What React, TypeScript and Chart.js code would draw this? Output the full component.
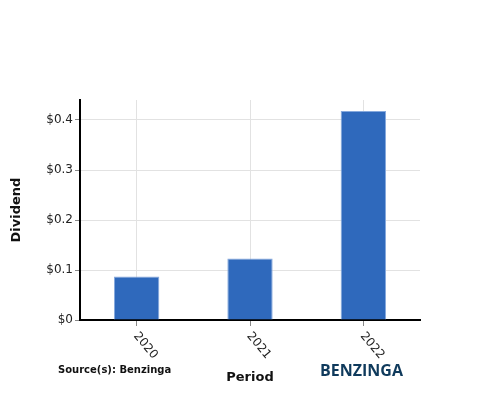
import React, { useEffect, useRef } from "react";
import { Chart, registerables } from "chart.js";

Chart.register(...registerables);

const categories = ["2020", "2021", "2022"];
const dividends = [0.087, 0.123, 0.418];
const yTickValues = [0, 0.1, 0.2, 0.3, 0.4];
const yMax = 0.44;

const FONT = "'DejaVu Sans', sans-serif";

const overlayPlugin = {
  id: "overlay",
  afterDraw(chart: any) {
    const ctx = chart.ctx;
    const xs = chart.scales.x;
    const area = chart.chartArea;
    ctx.save();
    // rotated category labels
    ctx.font = `12px ${FONT}`;
    ctx.fillStyle = "#222";
    ctx.textAlign = "left";
    ctx.textBaseline = "middle";
    categories.forEach((c, i) => {
      const x = xs.getPixelForTick(i);
      ctx.save();
      ctx.translate(x - 1, area.bottom + 14);
      ctx.rotate((50 * Math.PI) / 180);
      ctx.fillText(c, 0, 0);
      ctx.restore();
    });
    // source text
    ctx.font = `bold 10px ${FONT}`;
    ctx.fillStyle = "#111";
    ctx.textAlign = "left";
    ctx.textBaseline = "alphabetic";
    ctx.fillText("Source(s): Benzinga", 58, 373);
    // logo text
    ctx.font = `bold 16px 'Open Sans', sans-serif`;
    ctx.fillStyle = "#0f3a5c";
    ctx.fillText("BENZINGA", 320, 376);
    ctx.restore();
  },
};

export default function App() {
  const ref = useRef<HTMLCanvasElement>(null);
  useEffect(() => {
    if (!ref.current) return;
    const chart = new Chart(ref.current, {
      type: "bar",
      data: {
        labels: categories,
        datasets: [
          {
            data: dividends,
            backgroundColor: "#2f69bc",
            borderColor: "#86a9dd",
            borderWidth: 1,
            barPercentage: 0.4,
            categoryPercentage: 1,
          },
        ],
      },
      options: {
        animation: false,
        responsive: false,
        maintainAspectRatio: false,
        layout: { padding: { top: 100, right: 80, left: 0, bottom: 0 } },
        plugins: { legend: { display: false }, tooltip: { enabled: false } },
        scales: {
          x: {
            grid: {
              offset: false,
              color: "#e2e2e2",
              tickColor: "#888",
              tickLength: 6,
            },
            border: { color: "#000", width: 2 },
            ticks: { display: false },
            title: {
              display: true,
              text: "Period",
              font: { family: FONT, size: 13, weight: "bold" },
              color: "#111",
              padding: { top: 4, bottom: 15 },
            },
            afterFit: (s: any) => {
              s.height = 80;
            },
          },
          y: {
            min: 0,
            max: yMax,
            afterBuildTicks: (s: any) => {
              s.ticks = yTickValues.map((v) => ({ value: v }));
            },
            grid: { color: "#e2e2e2", tickColor: "#888", tickLength: 5 },
            border: { color: "#000", width: 2 },
            ticks: {
              font: { family: FONT, size: 12 },
              color: "#222",
              padding: 2,
              callback: (v: any) => "$" + v,
            },
            title: {
              display: true,
              text: "Dividend",
              font: { family: FONT, size: 13, weight: "bold" },
              color: "#111",
              padding: { top: 9, bottom: 4 },
            },
            afterFit: (s: any) => {
              s.width = 80;
            },
          },
        },
      },
      plugins: [overlayPlugin],
    });
    return () => chart.destroy();
  }, []);
  return (
    <div style={{ position: "absolute", left: 0, top: 0, width: 500, height: 400 }}>
      <canvas ref={ref} width={500} height={400} style={{ width: 500, height: 400 }} />
    </div>
  );
}
